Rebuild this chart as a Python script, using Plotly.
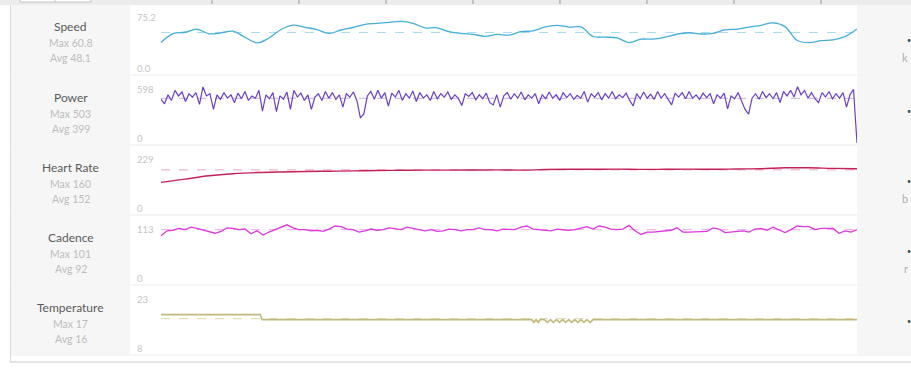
import plotly.graph_objects as go

W, H = 911, 387

# ---------------- data ----------------
t_start, t_end = 4.14, 84.14          # elapsed minutes covered by the samples
time_ticks = [10, 20, 30, 40, 50, 60, 70, 80]

speed = [36.5, 46.8, 48.3, 51.8, 46.5, 47.6, 49.5, 42.5, 36.0, 41.6,
         51.5, 56.6, 54.0, 51.4, 47.0, 50.9, 53.8, 57.5, 58.6, 59.8,
         60.8, 58.6, 53.4, 53.4, 49.0, 46.9, 45.9, 43.6, 45.8, 45.0,
         49.0, 50.0, 54.5, 56.3, 54.3, 54.4, 43.4, 42.6, 41.9, 36.3,
         40.3, 40.4, 42.7, 46.0, 47.7, 46.3, 47.0, 51.0, 51.9, 54.2,
         56.3, 59.2, 54.8, 39.0, 36.2, 38.5, 39.5, 43.3, 52.0]

power = [390, 350, 430, 380, 470, 420, 455, 370, 440, 410,
         450, 345, 500, 420, 440, 300, 430, 390, 450, 400,
         430, 360, 445, 395, 460, 380, 420, 400, 470, 285,
         430, 395, 450, 280, 420, 390, 455, 300, 470, 410,
         445, 380, 430, 300, 410, 440, 380, 460, 400, 450,
         390, 430, 320, 440, 410, 455, 380, 225, 260, 420,
         460, 390, 470, 400, 450, 330, 445, 410, 470, 380,
         440, 400, 465, 370, 450, 400, 430, 380, 460, 395,
         440, 410, 455, 390, 430, 400, 335, 440, 415, 450,
         385, 430, 395, 445, 360, 340, 430, 320, 420, 450,
         390, 440, 400, 455, 385, 430, 400, 440, 350, 430,
         395, 455, 400, 430, 380, 450, 405, 440, 390, 425,
         400, 460, 365, 440, 410, 450, 385, 440, 400, 460,
         395, 430, 405, 445, 380, 330, 440, 395, 455, 400,
         435, 390, 460, 400, 440, 385, 340, 445, 410, 450,
         395, 460, 400, 430, 390, 445, 405, 440, 350, 430,
         400, 445, 305, 420, 395, 450, 380, 300, 258, 400,
         440, 390, 460, 405, 440, 395, 450, 360, 460, 420,
         470, 410, 503, 430, 470, 400, 450, 395, 360, 450,
         410, 460, 395, 440, 400, 450, 320, 430, 480, 0]

heart_rate = [110, 121, 132, 139, 143, 145, 146.5, 147.5, 148.5, 150,
              150.5, 151, 151, 151.5, 152, 151, 153, 154, 154, 154.5,
              153.5, 154, 154.5, 154, 155, 156, 159, 159, 157, 156]

cadence = [82, 90, 91, 94, 92, 96, 94, 91, 88, 86,
           89, 95, 94, 92, 93, 85, 90, 83, 88, 92,
           96, 100, 95, 92, 92, 90, 91, 89, 93, 98,
           97, 93, 92, 88, 90, 93, 91, 92, 95, 93,
           92, 96, 94, 92, 90, 92, 89, 90, 93, 92,
           90, 92, 92, 95, 92, 92, 90, 93, 92, 92,
           96, 98, 93, 92, 92, 90, 93, 92, 91, 92,
           95, 97, 93, 98, 96, 93, 92, 93, 99, 90,
           84, 88, 88, 89, 89, 91, 95, 88, 88, 88,
           89, 89, 95, 93, 87, 88, 89, 90, 88, 93,
           94, 91, 96, 92, 87, 92, 98, 97, 97, 92,
           94, 94, 94, 86, 90, 88, 92]

temp_time = [4.14, 15.55, 15.75, 46.75, 47.0, 47.25, 47.5, 47.75, 48.2, 48.55,
             48.9, 49.25, 49.6, 49.95, 50.3, 50.65, 51.0, 51.35, 51.7, 52.05,
             52.4, 52.75, 53.1, 53.45, 53.8, 84.14]
temperature = [16.9, 16.9, 15.8, 15.8, 15.2, 15.8, 15.2, 15.8, 15.8, 15.2,
               15.8, 15.2, 15.8, 15.2, 15.8, 15.2, 15.8, 15.2, 15.8, 15.2,
               15.8, 15.2, 15.8, 15.2, 15.8, 15.8]

metric_names = ["Speed", "Power", "Heart Rate", "Cadence", "Temperature"]
metric_max = ["60.8", "503", "160", "101", "17"]
metric_avg = ["48.1", "399", "152", "92", "16"]
axis_top = ["75.2", "598", "229", "113", "23"]
axis_bottom = ["0.0", "0", "0", "0", "8"]
# only the first glyph of each unit is visible at the window's right edge
unit_glyphs = ["k", "", "b", "r", ""]

# ---------------- styling / layout ----------------
line_colors = ["#45aed8", "#6a3fc6", "#c4205c", "#dc38dc", "#c2b97f"]
line_widths = [1.3, 1.2, 1.4, 1.3, 1.6]
avg_colors = ["#a6d9ee", "#c2b2ec", "#eea4bf", "#f2a8f2", "#ddd6ab"]
rows_px = [(5, 74), (76, 144), (146, 214), (216, 284), (286, 354)]
plot_px = [(9, 74), (76, 143), (147, 215), (217, 285), (287, 355)]
FONT = "Lato"


def px_x(p):
    return p / W


def px_y(p):
    return 1 - p / H


def sample_times(n):
    return [t_start + i * (t_end - t_start) / (n - 1) for i in range(n)]


series = [
    (sample_times(len(speed)), speed, "spline"),
    (sample_times(len(power)), power, "linear"),
    (sample_times(len(heart_rate)), heart_rate, "spline"),
    (sample_times(len(cadence)), cadence, "linear"),
    (temp_time, temperature, "linear"),
]

fig = go.Figure()
x_range = [t_start - 31 / 8.7, t_end]
layout = dict(width=W, height=H, margin=dict(l=0, r=0, t=0, b=0),
              paper_bgcolor="white", plot_bgcolor="rgba(0,0,0,0)",
              showlegend=False, font=dict(family=FONT))

shapes = []
annotations = []

# top toolbar band
shapes.append(dict(type="rect", xref="paper", yref="paper", x0=0, x1=1,
                   y0=px_y(5), y1=1, fillcolor="#ececec", line_width=0, layer="below"))
shapes.append(dict(type="rect", xref="paper", yref="paper", x0=px_x(20), x1=px_x(91),
                   y0=px_y(2), y1=px_y(-2), fillcolor="#ffffff",
                   line=dict(color="#c4c4c4", width=1), layer="below"))
shapes.append(dict(type="line", xref="paper", yref="paper", x0=px_x(55), x1=px_x(55),
                   y0=px_y(2), y1=1, line=dict(color="#c4c4c4", width=1), layer="below"))
for tv in time_ticks:
    shapes.append(dict(type="line", xref="x", yref="paper", x0=tv, x1=tv,
                       y0=px_y(4), y1=1, line=dict(color="#9a9a9a", width=1)))

for k in range(5):
    ax = "" if k == 0 else str(k + 1)
    top, bot = rows_px[k]
    ptop, pbot = plot_px[k]
    ylo, yhi = float(axis_bottom[k]), float(axis_top[k])
    layout["xaxis" + ax] = dict(domain=[px_x(130), px_x(857)], range=x_range,
                                anchor="y" + ax, visible=False, fixedrange=True)
    layout["yaxis" + ax] = dict(domain=[px_y(pbot), px_y(ptop)], range=[ylo, yhi],
                                anchor="x" + ax, visible=False, fixedrange=True)

    xs, ys, shape = series[k]
    fig.add_trace(go.Scatter(x=xs, y=ys, mode="lines", xaxis="x" + ax, yaxis="y" + ax,
                             line=dict(color=line_colors[k], width=line_widths[k], shape=shape),
                             hoverinfo="skip"))

    # panels
    shapes.append(dict(type="rect", xref="paper", yref="paper", x0=px_x(11), x1=px_x(130),
                       y0=px_y(bot), y1=px_y(top), fillcolor="#f6f6f6", line_width=0,
                       layer="below"))
    shapes.append(dict(type="rect", xref="paper", yref="paper", x0=px_x(857), x1=1,
                       y0=px_y(bot), y1=px_y(top), fillcolor="#f6f6f6", line_width=0,
                       layer="below"))
    shapes.append(dict(type="line", xref="paper", yref="paper", x0=px_x(11), x1=1,
                       y0=px_y(bot + 1), y1=px_y(bot + 1),
                       line=dict(color="#ebebeb", width=1), layer="below"))
    # average line
    shapes.append(dict(type="line", xref="x" + ax, yref="y" + ax, x0=t_start, x1=t_end,
                       y0=float(metric_avg[k]), y1=float(metric_avg[k]),
                       line=dict(color=avg_colors[k], width=1, dash="dash"), layer="below"))

    # left labels
    annotations.append(dict(text=metric_names[k], xref="paper", yref="paper",
                            x=px_x(70.5), y=px_y(top + 21), showarrow=False,
                            xanchor="center", yanchor="middle",
                            font=dict(size=12, color="#5a5a5a", family=FONT)))
    annotations.append(dict(text="Max " + metric_max[k], xref="paper", yref="paper",
                            x=px_x(70.5), y=px_y(top + 38), showarrow=False,
                            xanchor="center", yanchor="middle",
                            font=dict(size=10.5, color="#bdbdbd", family=FONT)))
    annotations.append(dict(text="Avg " + metric_avg[k], xref="paper", yref="paper",
                            x=px_x(70.5), y=px_y(top + 53), showarrow=False,
                            xanchor="center", yanchor="middle",
                            font=dict(size=10.5, color="#bdbdbd", family=FONT)))
    # range labels
    annotations.append(dict(text=axis_top[k], xref="paper", yref="paper",
                            x=px_x(135), y=px_y(top + 13), showarrow=False,
                            xanchor="left", yanchor="middle",
                            font=dict(size=9.5, color="#c4c4c4", family=FONT)))
    annotations.append(dict(text=axis_bottom[k], xref="paper", yref="paper",
                            x=px_x(135), y=px_y(bot - 6), showarrow=False,
                            xanchor="left", yanchor="middle",
                            font=dict(size=9.5, color="#c4c4c4", family=FONT)))
    # right panel markers
    annotations.append(dict(text="•", xref="paper", yref="paper",
                            x=px_x(909), y=px_y(top + 35), showarrow=False,
                            xanchor="center", yanchor="middle",
                            font=dict(size=7, color="#444444", family=FONT)))
    if unit_glyphs[k]:
        annotations.append(dict(text=unit_glyphs[k], xref="paper", yref="paper",
                                x=px_x(910), y=px_y(top + 52), showarrow=False,
                                xanchor="right", yanchor="middle",
                                font=dict(size=11, color="#b0b0b0", family=FONT)))

# container borders
shapes.append(dict(type="line", xref="paper", yref="paper", x0=px_x(10.5), x1=px_x(10.5),
                   y0=px_y(362), y1=px_y(5), line=dict(color="#dcdcdc", width=1), layer="below"))
shapes.append(dict(type="line", xref="paper", yref="paper", x0=px_x(10), x1=1,
                   y0=px_y(362), y1=px_y(362), line=dict(color="#dcdcdc", width=1.5), layer="below"))

layout["shapes"] = shapes
layout["annotations"] = annotations
fig.update_layout(**layout)

fig.write_html("out.html", config={"displayModeBar": False, "staticPlot": True},
               post_script="document.body.style.margin='0';document.body.style.overflow='hidden';")
